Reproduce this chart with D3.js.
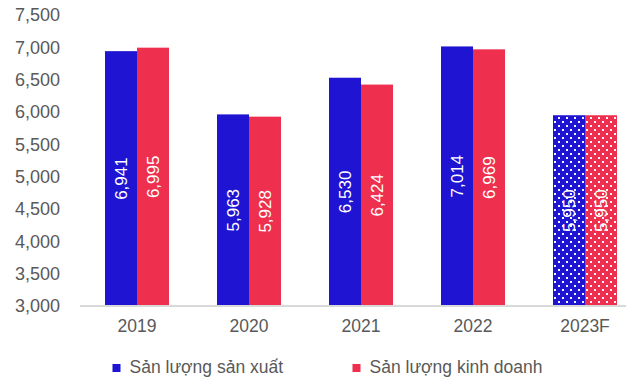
<!DOCTYPE html>
<html>
<head>
<meta charset="utf-8">
<script src="https://cdn.jsdelivr.net/npm/d3@7"></script>
<style>
  html, body { margin: 0; padding: 0; background: #fff; }
  svg { display: block; font-family: "Liberation Sans", Arial, sans-serif; }
</style>
</head>
<body>
<svg id="chart" width="626" height="379"></svg>
<script>
// Sản lượng theo năm (nghìn tấn)
const years = ["2019", "2020", "2021", "2022", "2023F"];
const production = [6941, 5963, 6530, 7014, 5950];   // Sản lượng sản xuất
const sales = [6995, 5928, 6424, 6969, 5950];        // Sản lượng kinh doanh
const seriesNames = ["Sản lượng sản xuất", "Sản lượng kinh doanh"];
const yTicks = [3000, 3500, 4000, 4500, 5000, 5500, 6000, 6500, 7000, 7500];
const forecastYear = "2023F";

const colors = ["#1e14d2", "#ee2f4e"];
const textColor = "#595959";

const svg = d3.select("#chart");

const x = d3.scaleBand()
  .domain(years)
  .range([81, 641])
  .paddingInner(48 / 112)
  .paddingOuter(24 / 112);

const xSub = d3.scaleBand()
  .domain([0, 1])
  .range([0, x.bandwidth()]);

const y = d3.scaleLinear()
  .domain([3000, 7500])
  .range([306, 15]);

// dotted fills for the forecast year
const defs = svg.append("defs");
colors.forEach((c, i) => {
  const p = defs.append("pattern")
    .attr("id", "dots" + i)
    .attr("patternUnits", "userSpaceOnUse")
    .attr("width", 8).attr("height", 8);
  p.append("rect").attr("width", 8).attr("height", 8).attr("fill", c);
  p.append("rect").attr("x", 1).attr("y", 1).attr("width", 2).attr("height", 2).attr("fill", "#f4f4ff");
  p.append("rect").attr("x", 5).attr("y", 5).attr("width", 2).attr("height", 2).attr("fill", "#f4f4ff");
});

// y axis labels (no line, no ticks)
const yAxis = svg.append("g")
  .attr("transform", "translate(60,0)")
  .call(d3.axisLeft(y).tickValues(yTicks).tickSize(0).tickPadding(0).tickFormat(d3.format(",")));
yAxis.select(".domain").remove();
yAxis.selectAll("text")
  .attr("fill", textColor)
  .style("font-size", "18px")
  .style("font-family", "'Liberation Sans', Arial, sans-serif");

// bars
const rows = years.map((yr, i) => ({ year: yr, values: [production[i], sales[i]] }));

const groups = svg.append("g").selectAll("g")
  .data(rows)
  .join("g")
  .attr("transform", d => `translate(${x(d.year)},0)`);

groups.selectAll("rect")
  .data(d => d.values.map((v, s) => ({ v, s, year: d.year })))
  .join("rect")
  .attr("x", d => xSub(d.s))
  .attr("y", d => y(d.v))
  .attr("width", xSub.bandwidth())
  .attr("height", d => y(3000) - y(d.v))
  .attr("fill", d => d.year === forecastYear ? `url(#dots${d.s})` : colors[d.s]);

groups.selectAll("text")
  .data(d => d.values.map((v, s) => ({ v, s })))
  .join("text")
  .attr("transform", d => `translate(${xSub(d.s) + xSub.bandwidth() / 2},${(y(d.v) + y(3000)) / 2}) rotate(-90)`)
  .attr("text-anchor", "middle")
  .attr("dy", "0.35em")
  .attr("fill", "#ffffff")
  .style("font-size", "17px")
  .text(d => d3.format(",")(d.v));

// x axis
const xAxis = svg.append("g")
  .attr("transform", "translate(0,306)")
  .call(d3.axisBottom(x).tickSize(0).tickPadding(14));
xAxis.select(".domain").remove();
xAxis.append("line")
  .attr("x1", 80).attr("x2", 626)
  .attr("y1", 0).attr("y2", 0)
  .attr("stroke", "#d9d9d9").attr("stroke-width", 2);
xAxis.selectAll("text")
  .attr("fill", textColor)
  .style("font-size", "17.5px")
  .style("font-family", "'Liberation Sans', Arial, sans-serif");

// legend
const legendSquareX = [112.5, 352.5];
const legendTextX = [129.5, 369.5];
const legend = svg.append("g").selectAll("g")
  .data(seriesNames)
  .join("g");
legend.append("rect")
  .attr("x", (d, i) => legendSquareX[i])
  .attr("y", 364)
  .attr("width", 8).attr("height", 8)
  .attr("fill", (d, i) => colors[i]);
legend.append("text")
  .attr("x", (d, i) => legendTextX[i])
  .attr("y", 373)
  .attr("fill", textColor)
  .style("font-size", "17.5px")
  .text(d => d);
</script>
</body>
</html>
